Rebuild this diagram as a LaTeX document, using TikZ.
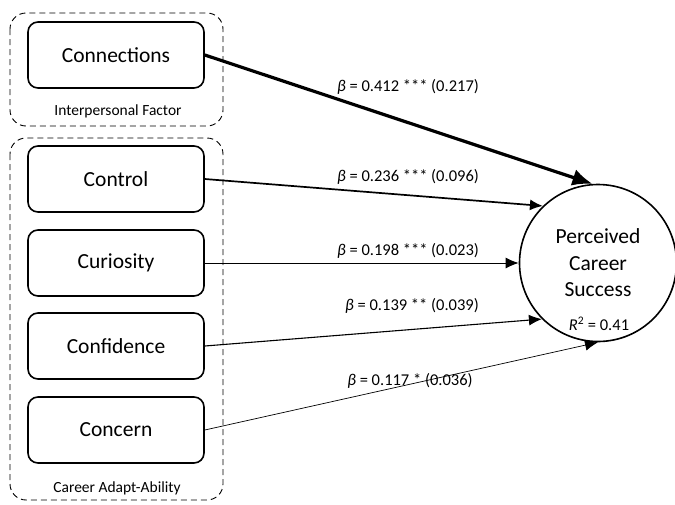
\documentclass[tikz,border=0pt]{standalone}
\usepackage{fontspec}
\setmainfont{Carlito}
\usepackage{tikz}
\usetikzlibrary{positioning,arrows.meta}

\begin{document}
\begin{tikzpicture}[
    x=1pt, y=-1pt,
    factor/.style={
        draw,
        line width=1.6pt,
        rounded corners=10pt,
        minimum width=176pt,
        minimum height=66pt,
        font=\fontsize{21.5}{26}\selectfont
    },
    group/.style={draw, dash pattern=on 6pt off 4pt, line width=0.9pt, rounded corners=16pt},
    grouplabel/.style={font=\fontsize{15.5}{18}\selectfont},
    coef/.style={font=\fontsize{16.5}{20}\selectfont},
    path/.style={-{Latex[length=13pt,width=11pt]}}
]
\useasboundingbox (0,0) rectangle (675,504);

% groups
\draw[group] (10,13) rectangle (223,126);
\draw[group] (10,138) rectangle (223,500);
\node[grouplabel] (lblip) at (118,111) {Interpersonal Factor};
\node[grouplabel] (lblcaa) at (117,488) {Career Adapt-Ability};

% predictors
\node[factor] (conn) at (116,55) {Connections};
\node[factor] (ctrl) at (116,179) {Control};
\node[factor] (cur)  at (116,263) {Curiosity};
\node[factor] (conf) at (116,346) {Confidence};
\node[factor] (conc) at (116,430) {Concern};

% outcome
\node[draw, circle, line width=1.6pt, minimum size=157pt, inner sep=0pt,
      align=center, font=\fontsize{21.5}{26.5}\selectfont] (pcs) at (598,263)
      {Perceived\\Career\\Success};
\node[coef] (r2) at (599,324) {\textit{R}\textsuperscript{2} = 0.41};

% paths
\draw[path, line width=3.2pt, -{Latex[length=20pt,width=17pt]}] (conn.east) -- (pcs.94);
\draw[path, line width=1.7pt] (ctrl.east) -- (pcs.134);
\draw[path, line width=1pt] (cur.east) -- (pcs.180);
\draw[path, line width=1.1pt] (conf.east) -- (pcs.225);
\draw[path, line width=0.7pt] (conc.east) -- (pcs.270);

% coefficients
\node[coef] (b1) at (408,87)  {\textit{β} = 0.412 *** (0.217)};
\node[coef] (b2) at (408,177) {\textit{β} = 0.236 *** (0.096)};
\node[coef] (b3) at (408,251) {\textit{β} = 0.198 *** (0.023)};
\node[coef] (b4) at (412,306) {\textit{β} = 0.139 ** (0.039)};
\node[coef] (b5) at (410,381) {\textit{β} = 0.117 * (0.036)};
\end{tikzpicture}
\end{document}
